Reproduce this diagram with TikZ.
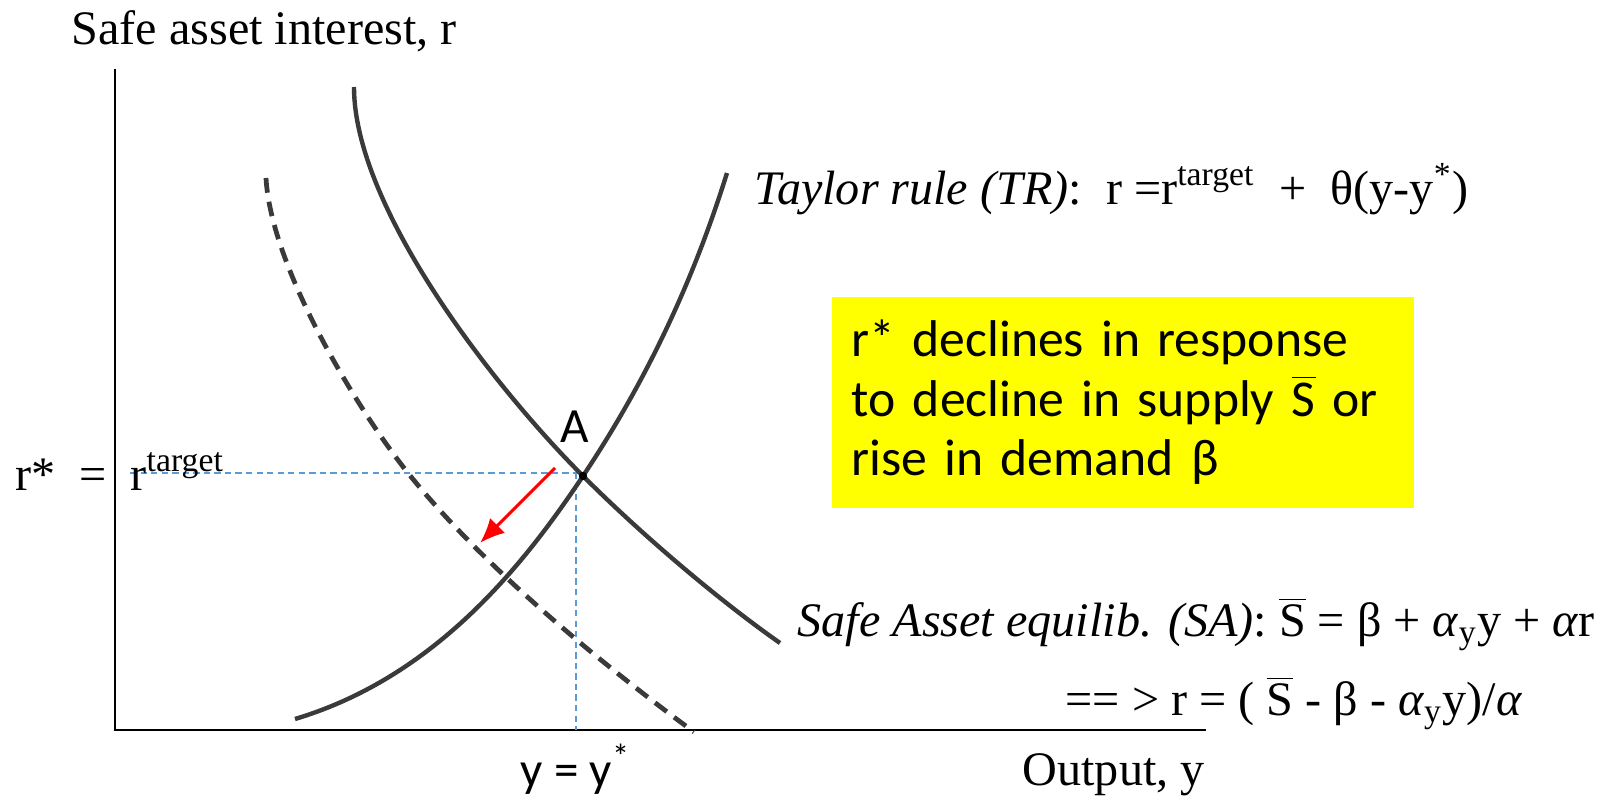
\documentclass[tikz,border=0pt]{standalone}
\usepackage{fontspec}
\setmainfont{Liberation Serif}
\newfontfamily\calibri{Carlito}
\usetikzlibrary{arrows.meta}
\definecolor{curvegray}{HTML}{3A3A3A}
\definecolor{guideblue}{HTML}{5B9BD5}
\definecolor{notefill}{HTML}{FFFF00}
\tikzset{
  curve/.style={line width=1.25pt, curvegray},
  shifted/.style={curve, line width=1.35pt, dash pattern=on 4.2pt off 2.6pt},
  guide/.style={line width=0.45pt, guideblue, dash pattern=on 1.8pt off 1.2pt},
  lbl/.style={font=\fontsize{13.7}{16}\selectfont, inner sep=0pt},
  sanslbl/.style={font=\calibri\fontsize{14}{16}\selectfont, inner sep=0pt},
}
\newcommand{\Sbar}{$\overline{\mbox{S}}$}
\begin{document}
\begin{tikzpicture}
  \useasboundingbox (0,0) rectangle (15.98,7.96);
  % axes
  \coordinate (ytop) at (1.15,7.27);
  \coordinate (origin) at (1.15,0.66);
  \coordinate (xend) at (12.06,0.66);
  \draw[line width=0.8pt] (ytop) -- (origin) -- (xend);
  \node[lbl, anchor=west] (ylabel) at (0.71,7.65) {Safe asset interest, r};
  \node[lbl, anchor=west] (xlabel) at (10.22,0.21) {Output, y};

  % equilibrium A and guides
  \coordinate (A) at (5.83,3.20);
  \coordinate (rtick) at (1.30,3.23);
  \coordinate (ytick) at (5.76,0.66);
  \draw[guide] (rtick) -- (5.83,3.23);
  \draw[guide] (5.76,3.23) -- (ytick);

  % Taylor rule
  \draw[curve] (2.95,0.77) .. controls (4.35,1.19) and (5.23,2.30) .. (A)
    .. controls (6.53,4.25) and (6.97,5.27) .. (7.27,6.23);
  % safe asset equilibrium
  \draw[curve] (3.54,7.09) .. controls (3.54,5.89) and (4.93,4.10) .. (A)
    .. controls (6.43,2.60) and (7.20,1.95) .. (7.80,1.53);
  % shifted safe asset curve
  \draw[shifted] (2.66,6.18) .. controls (2.71,5.28) and (3.58,3.855) .. (4.08,3.23)
    .. controls (4.88,2.23) and (6.14,1.23) .. (6.94,0.64);

  \fill (A) circle (0.042);
  \node[sanslbl] (Alabel) at (5.75,3.69) {A};
  \coordinate (shiftfrom) at (5.55,3.28);
  \coordinate (shiftto) at (4.80,2.53);
  \draw[red, line width=0.9pt, -{Latex[length=7pt, width=6pt]}] (shiftfrom) -- (shiftto);

  % axis values
  \node[lbl, anchor=base west] (rstar) at (0.15,3.06) {r*\ \ =};
  \node[lbl, anchor=base west] (rtarget) at (1.30,3.06) {r\textsuperscript{target}};
  \node[sanslbl] (ystar) at (5.76,0.27) {y = y\textsuperscript{*}};

  % curve labels
  \node[lbl, anchor=west] (TRlabel) at (7.54,6.07) {\textit{Taylor rule (TR)}:\ \ r =r\textsuperscript{target}\ \ +\ \ θ(y-y\textsuperscript{*})};
  \node[lbl, anchor=west] (SAlabel) at (7.97,1.72) {\textit{Safe Asset equilib. (SA)}: \Sbar{} = β + \textit{α}\textsubscript{y}y + \textit{α}r};
  \node[lbl, anchor=west] (SAsolved) at (10.65,0.93) {== > r = ( \Sbar{} - β - \textit{α}\textsubscript{y}y)/\textit{α}};

  % note box
  \node[fill=notefill, anchor=north west, minimum width=5.82cm, minimum height=2.11cm, text width=5.42cm, inner xsep=0.2cm, align=left, font=\calibri\fontsize{14.7}{16.9}\selectfont] (note) at (8.31,5.00) {r* declines in response\\ to decline in supply \Sbar{} or\\ rise in demand β};
\end{tikzpicture}
\end{document}
